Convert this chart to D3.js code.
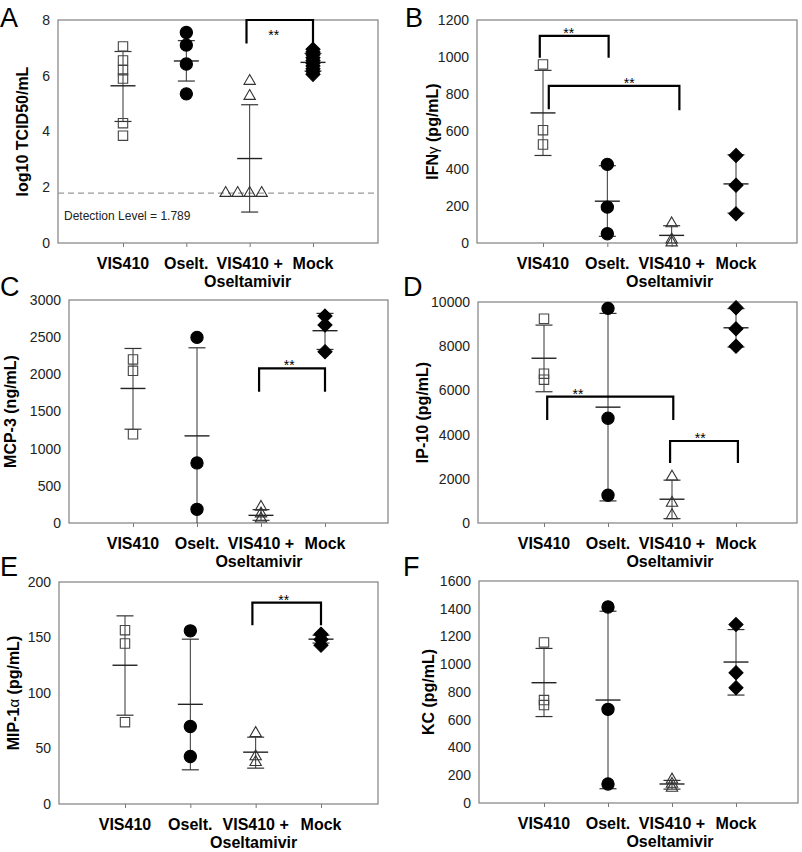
<!DOCTYPE html>
<html>
<head>
<meta charset="utf-8">
<script src="https://cdn.jsdelivr.net/npm/d3@7"></script>
<style>
body { margin: 0; background: #fff; }
text { font-family: Arial, "Liberation Sans", sans-serif; }
</style>
</head>
<body>
<div id="chart"></div>
<script>
var categories = ["VIS410", "Oselt.", "VIS410 +", "Mock"];
var categorySub = ["", "", "Oseltamivir", ""];

// A: lung viral titer
var titerPoints = [[7.05, 6.55, 6.2, 5.9, 4.3, 3.85], [7.55, 7.1, 6.42, 5.35], [5.81, 5.27, 1.789, 1.789, 1.789, 1.789], [6.95, 6.85, 6.75, 6.65, 6.55, 6.45, 6.35, 6.25, 6.15, 6.05]];
var titerMean = [5.64, 6.53, 3.03, 6.48];
var titerHigh = [6.87, 7.26, 4.96, 6.8];
var titerLow = [4.36, 5.81, 1.11, 6.17];
var titerTicks = [0, 2, 4, 6, 8];
var titerBrackets = [[2.95, 4, 8, 7.16, 7.04, 3.38]]; // x1, x2, top, leg1, leg2, star x
var detectionLevel = 1.789;

// B: IFN-gamma
var ifnPoints = [[961, 607, 530], [423, 193, 50], [105, 18, 2], [471, 311, 157]];
var ifnMean = [700, 225, 41, 318];
var ifnHigh = [929, 416, 93, 475];
var ifnLow = [471, 36, -11, 161];
var ifnTicks = [0, 200, 400, 600, 800, 1000, 1200];
var ifnBrackets = [[0.95, 2.02, 1115, 997, 997, 1.4], [1.09, 3.12, 846, 720, 714, 2.34]];

// C: MCP-3
var mcpPoints = [[2200, 2048, 1194], [2497, 808, 184], [215, 126, 58], [2784, 2663, 2304]];
var mcpMean = [1810, 1172, 103, 2587];
var mcpHigh = [2348, 2357, 180, 2820];
var mcpLow = [1262, -13, 36, 2335];
var mcpTicks = [0, 500, 1000, 1500, 2000, 2500, 3000];
var mcpBrackets = [[2.97, 4, 2079, 1765, 1765, 3.44]];

// D: IP-10
var ipPoints = [[9242, 6758, 6485], [9712, 4742, 1258], [2091, 909, 348], [9742, 8788, 8000]];
var ipMean = [7455, 5242, 1076, 8833];
var ipHigh = [8955, 9485, 1939, 9700];
var ipLow = [5939, 1000, 197, 7960];
var ipTicks = [0, 2000, 4000, 6000, 8000, 10000];
var ipBrackets = [[1.05, 3.02, 5715, 4661, 4661, 1.53], [2.97, 4.03, 3710, 2715, 2715, 3.44]];

// E: MIP-1 alpha
var mipPoints = [[156.6, 144.6, 73.7], [156, 69.8, 42.8], [63.8, 42.8, 37.7], [153, 148.2, 143]];
var mipMean = [125, 89.8, 46.7, 148.5];
var mipHigh = [169.5, 148.5, 60.2, 152];
var mipLow = [80, 30.8, 32.3, 145];
var mipTicks = [0, 50, 100, 150, 200];
var mipBrackets = [[2.95, 4, 181.4, 161, 161, 3.43]];

// F: KC
var kcPoints = [[1157, 742, 706], [1413, 675, 137], [168, 137, 108], [1286, 939, 831]];
var kcMean = [867, 742, 137, 1016];
var kcHigh = [1114, 1382, 163, 1250];
var kcLow = [623, 103, 100, 778];
var kcTicks = [0, 200, 400, 600, 800, 1000, 1200, 1400, 1600];
var kcBrackets = [];

var panels = [
    {letter: "A", lx: 0, ly: 27, left: 58, right: 378, top: 20, bottom: 243, c1: 123, c4: 313, ticks: titerTicks,
        points: titerPoints, mean: titerMean, high: titerHigh, low: titerLow, brackets: titerBrackets,
        label: [["log10 TCID50/mL", false]], labelX: 28, detection: detectionLevel},
    {letter: "B", lx: 405, ly: 27, left: 477, right: 797, top: 20, bottom: 243, c1: 543, c4: 736, ticks: ifnTicks,
        points: ifnPoints, mean: ifnMean, high: ifnHigh, low: ifnLow, brackets: ifnBrackets,
        label: [["IFN", false], ["\u03b3", true], [" (pg/mL)", false]], labelX: 438},
    {letter: "C", lx: 0, ly: 296, left: 69, right: 388, top: 300, bottom: 523, c1: 133, c4: 325, ticks: mcpTicks,
        points: mcpPoints, mean: mcpMean, high: mcpHigh, low: mcpLow, brackets: mcpBrackets,
        label: [["MCP-3 (ng/mL)", false]], labelX: 16},
    {letter: "D", lx: 403, ly: 296, left: 478, right: 797, top: 302, bottom: 523, c1: 544, c4: 736, ticks: ipTicks,
        points: ipPoints, mean: ipMean, high: ipHigh, low: ipLow, brackets: ipBrackets,
        label: [["IP-10 (pg/mL)", false]], labelX: 428},
    {letter: "E", lx: 0, ly: 576, left: 59, right: 378, top: 582, bottom: 804, c1: 125, c4: 321, ticks: mipTicks,
        points: mipPoints, mean: mipMean, high: mipHigh, low: mipLow, brackets: mipBrackets,
        label: [["MIP-1", false], ["\u03b1", true], [" (pg/mL)", false]], labelX: 19},
    {letter: "F", lx: 403, ly: 576, left: 479, right: 798, top: 581, bottom: 803, c1: 544, c4: 736, ticks: kcTicks,
        points: kcPoints, mean: kcMean, high: kcHigh, low: kcLow, brackets: kcBrackets,
        label: [["KC (pg/mL)", false]], labelX: 434}
];

var svg = d3.select("#chart").append("svg")
    .attr("width", 802)
    .attr("height", 852)
    .style("background", "#fff");

function diamond(r) {
    return "M0," + (-r) + "L" + r + ",0L0," + r + "L" + (-r) + ",0Z";
}

var markers = [
    {path: d3.symbol().type(d3.symbolSquare).size(88)(), fill: "none", stroke: "#444"},
    {path: d3.symbol().type(d3.symbolCircle).size(118)(), fill: "#000", stroke: "#000"},
    {path: d3.symbol().type(d3.symbolTriangle).size(56)(), fill: "none", stroke: "#333"},
    {path: diamond(7), fill: "#000", stroke: "#000"}
];

panels.forEach(function (p, pi) {
    var g = svg.append("g");
    var yMax = p.ticks[p.ticks.length - 1];
    var x = d3.scaleLinear().domain([1, 4]).range([p.c1, p.c4]);
    var y = d3.scaleLinear().domain([0, yMax]).range([p.bottom, p.top]);

    var clipId = "clip" + pi;
    svg.append("clipPath").attr("id", clipId)
        .append("rect")
        .attr("x", p.left).attr("y", p.top)
        .attr("width", p.right - p.left).attr("height", p.bottom - p.top);

    // panel letter
    g.append("text")
        .attr("x", p.lx)
        .attr("y", p.ly)
        .attr("font-size", 27)
        .attr("fill", "#000")
        .text(p.letter);

    // y axis
    var yAxis = g.append("g")
        .attr("transform", "translate(" + p.left + ",0)")
        .call(d3.axisLeft(y).tickValues(p.ticks).tickSize(0).tickPadding(8).tickFormat(d3.format("d")));
    yAxis.select(".domain").remove();
    yAxis.selectAll("text").attr("font-size", 14).attr("fill", "#222")
        .style("font-family", "Arial, 'Liberation Sans', sans-serif");

    // x axis ticks
    var xAxis = g.append("g")
        .attr("transform", "translate(0," + p.bottom + ")")
        .call(d3.axisBottom(x).tickValues([1, 2, 3, 4]).tickSize(4).tickFormat(""));
    xAxis.select(".domain").remove();
    xAxis.selectAll("line").attr("stroke", "#777");

    // frame
    g.append("rect")
        .attr("x", p.left).attr("y", p.top)
        .attr("width", p.right - p.left).attr("height", p.bottom - p.top)
        .attr("fill", "none")
        .attr("stroke", "#808080")
        .attr("stroke-width", 1.2);

    // category labels
    categories.forEach(function (c, i) {
        g.append("text")
            .attr("x", x(i + 1))
            .attr("y", p.bottom + 26)
            .attr("text-anchor", "middle")
            .attr("font-size", 16)
            .attr("font-weight", "bold")
            .text(c);
        if (categorySub[i]) {
            g.append("text")
                .attr("x", x(i + 1) - 2)
                .attr("y", p.bottom + 44)
                .attr("text-anchor", "middle")
                .attr("font-size", 16)
                .attr("font-weight", "bold")
                .text(categorySub[i]);
        }
    });

    // y label
    var cy = (p.top + p.bottom) / 2;
    var lab = g.append("text")
        .attr("transform", "translate(" + p.labelX + "," + cy + ") rotate(-90)")
        .attr("text-anchor", "middle")
        .attr("font-size", 16)
        .attr("font-weight", "bold");
    p.label.forEach(function (part) {
        var t = lab.append("tspan").text(part[0]);
        if (part[1]) t.attr("font-weight", "normal").attr("font-size", 15);
    });

    // detection level
    if (p.detection !== undefined) {
        g.append("line")
            .attr("x1", p.left).attr("x2", p.right)
            .attr("y1", y(p.detection)).attr("y2", y(p.detection))
            .attr("stroke", "#999")
            .attr("stroke-width", 1.2)
            .attr("stroke-dasharray", "6,4");
        g.append("text")
            .attr("x", p.left + 6)
            .attr("y", y(p.detection) + 27)
            .attr("font-size", 12)
            .attr("fill", "#222")
            .text("Detection Level = " + p.detection);
    }

    // error bars
    var eb = g.append("g").attr("clip-path", "url(#" + clipId + ")");
    p.mean.forEach(function (m, i) {
        var cx = x(i + 1);
        eb.append("line")
            .attr("x1", cx).attr("x2", cx)
            .attr("y1", y(p.high[i])).attr("y2", y(p.low[i]))
            .attr("stroke", "#333").attr("stroke-width", 1);
        [p.high[i], p.low[i]].forEach(function (v) {
            eb.append("line")
                .attr("x1", cx - 8.5).attr("x2", cx + 8.5)
                .attr("y1", y(v)).attr("y2", y(v))
                .attr("stroke", "#333").attr("stroke-width", 1.2);
        });
        eb.append("line")
            .attr("x1", cx - 12.5).attr("x2", cx + 12.5)
            .attr("y1", y(m)).attr("y2", y(m))
            .attr("stroke", "#222").attr("stroke-width", 1.4);
    });

    // points
    p.points.forEach(function (vals, i) {
        var mk = markers[i];
        vals.forEach(function (v, j) {
            var same = vals.filter(function (w) { return w === v; });
            var k = vals.slice(0, j).filter(function (w) { return w === v; }).length;
            var dx = same.length > 1 ? (k - Math.floor(same.length / 2)) * 12 : 0;
            g.append("path")
                .attr("d", mk.path)
                .attr("transform", "translate(" + (x(i + 1) + dx) + "," + y(v) + ")")
                .attr("fill", mk.fill)
                .attr("stroke", mk.stroke)
                .attr("stroke-width", 1.1);
        });
    });

    // significance brackets
    p.brackets.forEach(function (b) {
        var x1 = x(b[0]), x2 = x(b[1]), yt = y(b[2]);
        g.append("path")
            .attr("d", "M" + x1 + "," + y(b[3]) + "V" + yt + "H" + x2 + "V" + y(b[4]))
            .attr("fill", "none")
            .attr("stroke", "#000")
            .attr("stroke-width", 2.2);
        g.append("text")
            .attr("x", x(b[5]))
            .attr("y", b[2] >= yMax ? yt + 20 : yt + 2)
            .attr("text-anchor", "middle")
            .attr("font-size", 14)
            .text("**");
    });
});
</script>
</body>
</html>
